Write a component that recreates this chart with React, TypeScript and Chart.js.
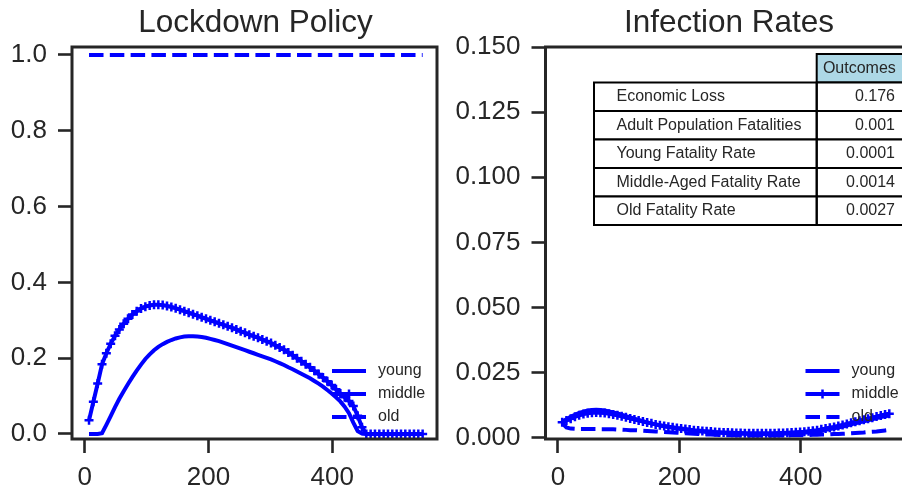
import React, { useEffect, useRef } from "react";
import { Chart, registerables } from "chart.js";

Chart.register(...registerables);

// ---------------- data ----------------
const days = [
  7, 14, 21, 28, 35, 42, 49, 56, 63, 70,
  77, 84, 91, 98, 105, 112, 119, 126, 133, 140,
  147, 154, 161, 168, 175, 182, 189, 196, 203, 210,
  217, 224, 231, 238, 245, 252, 259, 266, 273, 280,
  287, 294, 301, 308, 315, 322, 329, 336, 343, 350,
  357, 364, 371, 378, 385, 392, 399, 406, 413, 420,
  427, 434, 441, 448, 455, 462, 469, 476, 483, 490,
  497, 504, 511, 518, 525, 532, 539, 546,
];

const lockYoung = [
  0, 0, 0, 0.002, 0.024, 0.047, 0.071, 0.093, 0.113, 0.132,
  0.150, 0.167, 0.183, 0.198, 0.210, 0.221, 0.230, 0.237, 0.243, 0.248,
  0.252, 0.255, 0.257, 0.258, 0.258, 0.257, 0.256, 0.254, 0.251, 0.248,
  0.245, 0.241, 0.237, 0.233, 0.229, 0.225, 0.221, 0.217, 0.213, 0.209,
  0.205, 0.201, 0.197, 0.192, 0.187, 0.182, 0.176, 0.171, 0.165, 0.159,
  0.153, 0.147, 0.140, 0.133, 0.125, 0.116, 0.107, 0.097, 0.086, 0.072,
  0.055, 0.030, 0.008, 0.001, 0, 0, 0, 0, 0, 0,
  0, 0, 0, 0, 0, 0, 0, 0,
];

const lockMiddle = [
  0.036, 0.085, 0.133, 0.184, 0.213, 0.238, 0.259, 0.276, 0.291, 0.304,
  0.315, 0.324, 0.331, 0.336, 0.339, 0.341, 0.341, 0.340, 0.338, 0.335,
  0.332, 0.328, 0.324, 0.320, 0.316, 0.312, 0.308, 0.304, 0.300, 0.296,
  0.292, 0.288, 0.284, 0.280, 0.276, 0.271, 0.267, 0.262, 0.258, 0.254,
  0.249, 0.245, 0.240, 0.234, 0.228, 0.222, 0.215, 0.208, 0.200, 0.192,
  0.184, 0.176, 0.167, 0.158, 0.149, 0.139, 0.129, 0.118, 0.107, 0.097,
  0.087, 0.074, 0.048, 0.018, 0, 0, 0, 0, 0, 0,
  0, 0, 0, 0, 0, 0, 0, 0,
];

const lockOld = [
  1, 1, 1, 1, 1, 1, 1, 1, 1, 1,
  1, 1, 1, 1, 1, 1, 1, 1, 1, 1,
  1, 1, 1, 1, 1, 1, 1, 1, 1, 1,
  1, 1, 1, 1, 1, 1, 1, 1, 1, 1,
  1, 1, 1, 1, 1, 1, 1, 1, 1, 1,
  1, 1, 1, 1, 1, 1, 1, 1, 1, 1,
  1, 1, 1, 1, 1, 1, 1, 1, 1, 1,
  1, 1, 1, 1, 1, 1, 1, 1,
];

const infYoung = [
  0.0063, 0.0072, 0.0081, 0.0089, 0.0096, 0.0101, 0.0105, 0.0107, 0.0108, 0.0107,
  0.0105, 0.0102, 0.0098, 0.0094, 0.0089, 0.0084, 0.0079, 0.0074, 0.0069, 0.0064,
  0.0060, 0.0056, 0.0052, 0.0048, 0.0045, 0.0042, 0.0039, 0.0036, 0.0034, 0.0032,
  0.0030, 0.0028, 0.0026, 0.0025, 0.0023, 0.0022, 0.0021, 0.0020, 0.0019, 0.0018,
  0.0017, 0.0017, 0.0016, 0.0016, 0.0015, 0.0015, 0.0015, 0.0015, 0.0015, 0.0015,
  0.0015, 0.0016, 0.0016, 0.0017, 0.0017, 0.0018, 0.0019, 0.0020, 0.0022, 0.0024,
  0.0026, 0.0028, 0.0031, 0.0034, 0.0037, 0.0040, 0.0044, 0.0048, 0.0052, 0.0056,
  0.0060, 0.0064, 0.0068, 0.0072, 0.0076, 0.0080, 0.0083, 0.0086,
];

const infMiddle = [
  0.0060, 0.0067, 0.0074, 0.0081, 0.0087, 0.0092, 0.0095, 0.0097, 0.0098, 0.0097,
  0.0096, 0.0093, 0.0090, 0.0087, 0.0083, 0.0079, 0.0075, 0.0071, 0.0067, 0.0063,
  0.0059, 0.0056, 0.0052, 0.0049, 0.0046, 0.0043, 0.0041, 0.0038, 0.0036, 0.0034,
  0.0032, 0.0030, 0.0029, 0.0027, 0.0026, 0.0025, 0.0023, 0.0022, 0.0021, 0.0021,
  0.0020, 0.0019, 0.0019, 0.0018, 0.0018, 0.0018, 0.0018, 0.0018, 0.0018, 0.0018,
  0.0018, 0.0019, 0.0019, 0.0020, 0.0021, 0.0022, 0.0023, 0.0024, 0.0026, 0.0028,
  0.0030, 0.0033, 0.0036, 0.0039, 0.0042, 0.0046, 0.0050, 0.0054, 0.0058, 0.0062,
  0.0066, 0.0070, 0.0074, 0.0078, 0.0082, 0.0086, 0.0090, 0.0093,
];

const infOld = [
  0.0057, 0.0040, 0.0036, 0.0035, 0.0034, 0.0034, 0.0034, 0.0034, 0.0034, 0.0033,
  0.0033, 0.0033, 0.0033, 0.0032, 0.0032, 0.0031, 0.0030, 0.0030, 0.0029, 0.0028,
  0.0027, 0.0026, 0.0025, 0.0024, 0.0023, 0.0022, 0.0021, 0.0020, 0.0019, 0.0018,
  0.0017, 0.0016, 0.0015, 0.0014, 0.0013, 0.0013, 0.0012, 0.0011, 0.0011, 0.0010,
  0.0010, 0.0010, 0.0009, 0.0009, 0.0009, 0.0009, 0.0009, 0.0009, 0.0009, 0.0009,
  0.0009, 0.0009, 0.0009, 0.0009, 0.0010, 0.0010, 0.0010, 0.0011, 0.0011, 0.0012,
  0.0012, 0.0013, 0.0013, 0.0014, 0.0015, 0.0015, 0.0016, 0.0017, 0.0018, 0.0019,
  0.0020, 0.0021, 0.0023, 0.0024, 0.0025, 0.0027, 0.0029, 0.0031,
];

const xTicks = [0, 200, 400];
const lockYTicks = [0, 0.2, 0.4, 0.6, 0.8, 1.0];
const infYTicks = [0, 0.025, 0.05, 0.075, 0.1, 0.125, 0.15];
const seriesLabels = ["young", "middle", "old"];
const titles = ["Lockdown Policy", "Infection Rates"];
const tableHeader = "Outcomes";
const tableRowLabels = [
  "Economic Loss",
  "Adult Population Fatalities",
  "Young Fatality Rate",
  "Middle-Aged Fatality Rate",
  "Old Fatality Rate",
];
const tableValues = ["0.176", "0.001", "0.0001", "0.0014", "0.0027"];

// ---------------- style ----------------
const FONT = '"Liberation Sans", Arial, Helvetica, sans-serif';
const INK = "#262626";
const BLUE = "#0000ff";
const SPINE_W = 3;
const TICK_W = 2.6;
const LINE_W = 4;
const DASH = [14.5, 6.3];
const CANVAS_W = 451;
const CANVAS_H = 492;
const AREA_W = 365; // full (virtual) width of each axes box

type PanelOpts = {
  title: string;
  young: number[];
  middle: number[];
  old: number[];
  yTicks: number[];
  yMin: number;
  yMax: number;
  yDigits: number;
  yWidth: number;
  xMin: number;
  xMax: number;
  padRight: number;
  drawRightSpine: boolean;
  table: boolean;
};

function drawLegend(ctx: CanvasRenderingContext2D, areaLeft: number) {
  const x0 = areaLeft + 260;
  const x1 = x0 + 34;
  const ys = [371, 394, 417];
  ctx.save();
  ctx.strokeStyle = BLUE;
  ctx.lineWidth = LINE_W;
  ctx.lineCap = "butt";
  seriesLabels.forEach((lab, i) => {
    const y = ys[i];
    ctx.setLineDash(i === 2 ? DASH : []);
    ctx.beginPath();
    ctx.moveTo(x0, y);
    ctx.lineTo(x1, y);
    ctx.stroke();
    ctx.setLineDash([]);
    if (i === 1) {
      const cx = (x0 + x1) / 2;
      ctx.lineWidth = 2.5;
      ctx.beginPath();
      ctx.moveTo(cx - 4.5, y);
      ctx.lineTo(cx + 4.5, y);
      ctx.moveTo(cx, y - 4.5);
      ctx.lineTo(cx, y + 4.5);
      ctx.stroke();
      ctx.lineWidth = LINE_W;
    }
    ctx.fillStyle = INK;
    ctx.font = `16px ${FONT}`;
    ctx.textAlign = "left";
    ctx.textBaseline = "middle";
    ctx.fillText(lab, x1 + 12, y);
  });
  ctx.restore();
}

function drawTable(ctx: CanvasRenderingContext2D, offsetX: number) {
  const c0 = 594 - offsetX;
  const c1 = 816.7 - offsetX;
  const c2 = 904 - offsetX;
  const top = 54;
  const h = 28.5;
  ctx.save();
  ctx.lineWidth = 2;
  ctx.strokeStyle = "#000";
  ctx.font = `16px ${FONT}`;
  ctx.textBaseline = "middle";
  // header
  ctx.fillStyle = "#add8e6";
  ctx.fillRect(c1, top, c2 - c1, h);
  ctx.strokeRect(c1, top, c2 - c1, h);
  ctx.fillStyle = INK;
  ctx.textAlign = "center";
  ctx.fillText(tableHeader, (c1 + c2) / 2 - 1, top + h / 2);
  tableRowLabels.forEach((lab, i) => {
    const y = top + h * (i + 1);
    ctx.fillStyle = "#fff";
    ctx.fillRect(c0, y, c1 - c0, h);
    ctx.fillRect(c1, y, c2 - c1, h);
    ctx.strokeRect(c0, y, c1 - c0, h);
    ctx.strokeRect(c1, y, c2 - c1, h);
    ctx.fillStyle = INK;
    ctx.textAlign = "left";
    ctx.fillText(lab, c0 + 22.5, y + h / 2);
    ctx.textAlign = "right";
    ctx.fillText(tableValues[i], c2 - 9, y + h / 2);
  });
  ctx.restore();
}

function buildConfig(o: PanelOpts, offsetX: number): any {
  const pts = (arr: number[]) => days.map((d, i) => ({ x: d, y: arr[i] }));
  const framePlugin = {
    id: "frame",
    afterDatasetsDraw(chart: any) {
      const { ctx, chartArea } = chart;
      ctx.save();
      ctx.strokeStyle = INK;
      ctx.lineWidth = SPINE_W;
      ctx.lineCap = "square";
      ctx.beginPath();
      const r = o.drawRightSpine ? chartArea.right : chart.width + 10;
      ctx.moveTo(r, chartArea.top);
      ctx.lineTo(chartArea.left, chartArea.top);
      ctx.lineTo(chartArea.left, chartArea.bottom);
      ctx.lineTo(r, chartArea.bottom);
      if (o.drawRightSpine) ctx.lineTo(r, chartArea.top);
      ctx.stroke();
      ctx.restore();
    },
    afterDraw(chart: any) {
      const { ctx, chartArea } = chart;
      ctx.save();
      ctx.fillStyle = INK;
      ctx.font = `31.5px ${FONT}`;
      ctx.textAlign = "center";
      ctx.textBaseline = "alphabetic";
      ctx.fillText(o.title, chartArea.left + AREA_W / 2 + 1, 31.5);
      ctx.restore();
      drawLegend(ctx, chartArea.left);
      if (o.table) drawTable(ctx, offsetX);
    },
  };

  const tickFont = { family: FONT, size: 26 };
  const gridCfg = {
    display: true,
    drawOnChartArea: false,
    drawTicks: true,
    tickLength: 14,
    tickWidth: TICK_W,
    tickColor: INK,
    color: INK,
  };

  return {
    type: "line",
    data: {
      datasets: [
        {
          label: seriesLabels[0],
          data: pts(o.young),
          borderColor: BLUE,
          backgroundColor: BLUE,
          borderWidth: LINE_W,
          pointRadius: 0,
          tension: 0,
          fill: false,
        },
        {
          label: seriesLabels[1],
          data: pts(o.middle),
          borderColor: BLUE,
          backgroundColor: BLUE,
          borderWidth: LINE_W,
          pointStyle: "cross",
          pointRadius: 4.5,
          pointBorderWidth: 2.5,
          pointBorderColor: BLUE,
          tension: 0,
          fill: false,
        },
        {
          label: seriesLabels[2],
          data: pts(o.old),
          borderColor: BLUE,
          backgroundColor: BLUE,
          borderWidth: LINE_W,
          borderDash: DASH,
          borderCapStyle: "butt",
          pointRadius: 0,
          tension: 0,
          fill: false,
        },
      ],
    },
    options: {
      responsive: false,
      maintainAspectRatio: false,
      animation: false,
      devicePixelRatio: 1,
      events: [],
      layout: { padding: { top: 47, left: 0, right: o.padRight, bottom: 0 } },
      plugins: {
        legend: { display: false },
        tooltip: { enabled: false },
        title: { display: false },
      },
      scales: {
        x: {
          type: "linear",
          min: o.xMin,
          max: o.xMax,
          afterBuildTicks: (s: any) => {
            s.ticks = xTicks.map((v) => ({ value: v }));
          },
          afterFit: (s: any) => {
            s.height = 53;
          },
          grid: gridCfg,
          border: { display: false },
          ticks: {
            callback: (v: any) => String(v),
            font: tickFont,
            color: INK,
            padding: 9,
            maxRotation: 0,
            autoSkip: false,
          },
        },
        y: {
          type: "linear",
          min: o.yMin,
          max: o.yMax,
          afterBuildTicks: (s: any) => {
            s.ticks = o.yTicks.map((v) => ({ value: v }));
          },
          afterFit: (s: any) => {
            s.width = o.yWidth;
          },
          grid: gridCfg,
          border: { display: false },
          ticks: {
            callback: (v: any) => Number(v).toFixed(o.yDigits),
            font: tickFont,
            color: INK,
            padding: 11,
            autoSkip: false,
          },
        },
      },
    },
    plugins: [framePlugin],
  };
}

function Panel({ left, opts }: { left: number; opts: PanelOpts }) {
  const ref = useRef<HTMLCanvasElement>(null);
  useEffect(() => {
    const chart = new Chart(ref.current as HTMLCanvasElement, buildConfig(opts, left));
    return () => chart.destroy();
  }, []);
  return (
    <canvas
      ref={ref}
      width={CANVAS_W}
      height={CANVAS_H}
      style={{ position: "absolute", left, top: 0, width: CANVAS_W, height: CANVAS_H }}
    />
  );
}

export default function App() {
  const leftOpts: PanelOpts = {
    title: titles[0],
    young: lockYoung,
    middle: lockMiddle,
    old: lockOld,
    yTicks: lockYTicks,
    yMin: -0.0132,
    yMax: 1.021,
    yDigits: 1,
    yWidth: 72,
    xMin: -20.5,
    xMax: 569.2,
    padRight: CANVAS_W - 437,
    drawRightSpine: true,
    table: false,
  };
  const rightOpts: PanelOpts = {
    title: titles[1],
    young: infYoung,
    middle: infMiddle,
    old: infOld,
    yTicks: infYTicks,
    yMin: -0.0004,
    yMax: 0.15,
    yDigits: 3,
    yWidth: 94.5,
    xMin: -20.5,
    xMax: 555.4,
    padRight: 0,
    drawRightSpine: false,
    table: true,
  };
  return (
    <div
      style={{
        position: "absolute",
        left: 0,
        top: 0,
        width: 902,
        height: 492,
        background: "#fff",
        overflow: "hidden",
      }}
    >
      <Panel left={0} opts={leftOpts} />
      <Panel left={451} opts={rightOpts} />
    </div>
  );
}
